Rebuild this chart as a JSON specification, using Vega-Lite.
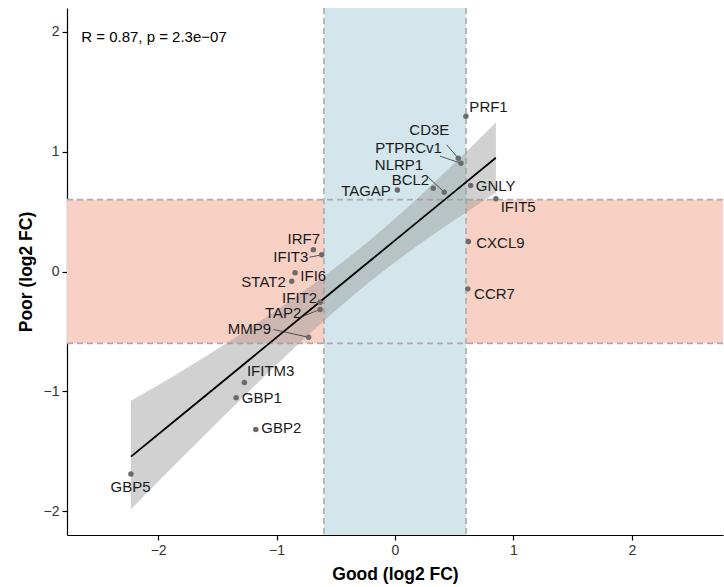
{
  "$schema": "https://vega.github.io/schema/vega-lite/v6.json",
  "width": 656,
  "height": 527,
  "autosize": {"type": "none"},
  "padding": {"left": 67, "top": 8, "right": 1, "bottom": 52},
  "config": {
    "view": {"stroke": null},
    "font": "Liberation Sans",
    "axis": {
      "grid": false,
      "domainColor": "#000000",
      "domainWidth": 1.2,
      "tickColor": "#000000",
      "tickWidth": 1.2,
      "tickSize": 5,
      "labelFont": "Liberation Sans",
      "labelFontSize": 14,
      "labelColor": "#333333",
      "labelPadding": 3,
      "titleFont": "Liberation Sans",
      "titleFontSize": 17.5,
      "titleFontWeight": "bold",
      "titleColor": "#000000"
    }
  },
  "datasets": {
    "zones": [
      {"zone": "good", "x": -0.6, "x2": 0.6, "y": -2.2, "y2": 2.2},
      {"zone": "poor", "x": -2.77, "x2": -0.6, "y": -0.6, "y2": 0.6},
      {"zone": "poor", "x": 0.6, "x2": 2.77, "y": -0.6, "y2": 0.6}
    ],
    "cuts": [{"v": -0.6}, {"v": 0.6}],
    "fit": [
      {"x": -2.23, "lo": -1.984, "hi": -1.08, "fit": -1.546},
      {"x": -1.8, "lo": -1.556, "hi": -0.83, "fit": -1.198},
      {"x": -1.4, "lo": -1.163, "hi": -0.585, "fit": -0.874},
      {"x": -1.0, "lo": -0.778, "hi": -0.322, "fit": -0.55},
      {"x": -0.6, "lo": -0.412, "hi": -0.04, "fit": -0.226},
      {"x": -0.28, "lo": -0.14, "hi": 0.206, "fit": 0.033},
      {"x": 0.1, "lo": 0.151, "hi": 0.531, "fit": 0.341},
      {"x": 0.5, "lo": 0.428, "hi": 0.902, "fit": 0.665},
      {"x": 0.852, "lo": 0.658, "hi": 1.245, "fit": 0.95}
    ],
    "genes": [
      {"gene": "PRF1", "x": 0.599, "y": 1.297, "lx": 0.79, "ly": 1.37},
      {"gene": "CD3E", "x": 0.534, "y": 0.946, "lx": 0.29, "ly": 1.18, "sx": 0.436, "sy": 1.058},
      {"gene": "PTPRCv1", "x": 0.557, "y": 0.904, "lx": 0.114, "ly": 1.035, "sx": 0.38, "sy": 0.963},
      {"gene": "NLRP1", "x": 0.416, "y": 0.662, "lx": 0.034, "ly": 0.893, "sx": 0.281, "sy": 0.787},
      {"gene": "BCL2", "x": 0.323, "y": 0.696, "lx": 0.13, "ly": 0.762},
      {"gene": "TAGAP", "x": 0.02, "y": 0.68, "lx": -0.245, "ly": 0.676},
      {"gene": "GNLY", "x": 0.639, "y": 0.718, "lx": 0.85, "ly": 0.71},
      {"gene": "IFIT5", "x": 0.852, "y": 0.607, "lx": 1.04, "ly": 0.537},
      {"gene": "CXCL9", "x": 0.62, "y": 0.25, "lx": 0.89, "ly": 0.24},
      {"gene": "CCR7", "x": 0.615, "y": -0.145, "lx": 0.84, "ly": -0.186},
      {"gene": "IRF7", "x": -0.689, "y": 0.181, "lx": -0.77, "ly": 0.273},
      {"gene": "IFIT3", "x": -0.619, "y": 0.139, "lx": -0.88, "ly": 0.12, "sx": -0.723, "sy": 0.119},
      {"gene": "IFI6", "x": -0.844, "y": -0.011, "lx": -0.69, "ly": -0.04},
      {"gene": "STAT2", "x": -0.872, "y": -0.081, "lx": -1.11, "ly": -0.09},
      {"gene": "IFIT2", "x": -0.633, "y": -0.256, "lx": -0.806, "ly": -0.222},
      {"gene": "TAP2", "x": -0.633, "y": -0.317, "lx": -0.945, "ly": -0.347, "sx": -0.8, "sy": -0.382},
      {"gene": "MMP9", "x": -0.73, "y": -0.549, "lx": -1.23, "ly": -0.48, "sx": -1.027, "sy": -0.484},
      {"gene": "IFITM3", "x": -1.272, "y": -0.927, "lx": -1.05, "ly": -0.83},
      {"gene": "GBP1", "x": -1.342, "y": -1.055, "lx": -1.125, "ly": -1.055},
      {"gene": "GBP2", "x": -1.176, "y": -1.319, "lx": -0.96, "ly": -1.31},
      {"gene": "GBP5", "x": -2.23, "y": -1.69, "lx": -2.233, "ly": -1.8}
    ],
    "stat": [{"label": "R = 0.87, p = 2.3e−07", "x": -2.65, "y": 1.954}]
  },
  "layer": [
    {
      "data": {"name": "zones"},
      "mark": {"type": "rect"},
      "encoding": {
        "x": {"field": "x", "type": "quantitative", "scale": {"domain": [-2.77, 2.77], "nice": false, "zero": false}, "axis": {"values": [-2, -1, 0, 1, 2], "title": "Good (log2 FC)", "titlePadding": 8, "format": "d"}},
        "x2": {"field": "x2"},
        "y": {"field": "y", "type": "quantitative", "scale": {"domain": [-2.2, 2.2], "nice": false, "zero": false}, "axis": {"values": [-2, -1, 0, 1, 2], "title": "Poor (log2 FC)", "titlePadding": 8, "format": "d"}},
        "y2": {"field": "y2"},
        "fill": {"field": "zone", "type": "nominal", "scale": {"domain": ["good", "poor"], "range": ["#D2E6EC", "#F8D0C4"]}, "legend": null}
      }
    },
    {
      "data": {"name": "cuts"},
      "mark": {"type": "rule", "color": "#ABABAB", "strokeDash": [6, 4], "strokeWidth": 1.6},
      "encoding": {"x": {"field": "v", "type": "quantitative"}}
    },
    {
      "data": {"name": "cuts"},
      "mark": {"type": "rule", "color": "#ABABAB", "strokeDash": [6, 4], "strokeWidth": 1.6},
      "encoding": {"y": {"field": "v", "type": "quantitative"}}
    },
    {
      "data": {"name": "fit"},
      "mark": {"type": "area", "color": "#999999", "opacity": 0.45, "interpolate": "monotone"},
      "encoding": {
        "x": {"field": "x", "type": "quantitative"},
        "y": {"field": "lo", "type": "quantitative"},
        "y2": {"field": "hi"}
      }
    },
    {
      "data": {"name": "fit"},
      "mark": {"type": "line", "color": "#000000", "strokeWidth": 1.8},
      "encoding": {
        "x": {"field": "x", "type": "quantitative"},
        "y": {"field": "fit", "type": "quantitative"}
      }
    },
    {
      "data": {"name": "genes"},
      "transform": [{"filter": "isValid(datum.sx)"}],
      "mark": {"type": "rule", "color": "#333333", "strokeWidth": 0.8},
      "encoding": {
        "x": {"field": "sx", "type": "quantitative"},
        "y": {"field": "sy", "type": "quantitative"},
        "x2": {"field": "x"},
        "y2": {"field": "y"}
      }
    },
    {
      "data": {"name": "genes"},
      "mark": {"type": "circle", "color": "#6B6B6B", "opacity": 1, "size": 30},
      "encoding": {
        "x": {"field": "x", "type": "quantitative"},
        "y": {"field": "y", "type": "quantitative"}
      }
    },
    {
      "data": {"name": "genes"},
      "mark": {"type": "text", "fontSize": 15, "color": "#1A1A1A", "align": "center", "baseline": "middle", "font": "Liberation Sans"},
      "encoding": {
        "x": {"field": "lx", "type": "quantitative"},
        "y": {"field": "ly", "type": "quantitative"},
        "text": {"field": "gene"}
      }
    },
    {
      "data": {"name": "stat"},
      "mark": {"type": "text", "fontSize": 15, "color": "#000000", "align": "left", "baseline": "middle", "font": "Liberation Sans"},
      "encoding": {
        "x": {"field": "x", "type": "quantitative"},
        "y": {"field": "y", "type": "quantitative"},
        "text": {"field": "label"}
      }
    }
  ]
}
